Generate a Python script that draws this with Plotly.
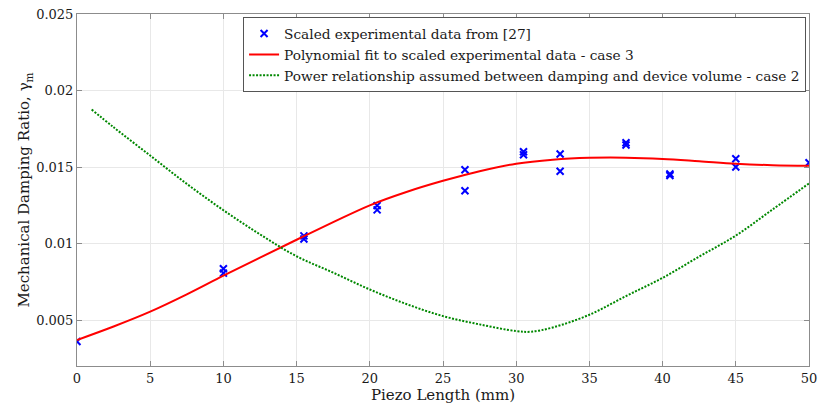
import plotly.graph_objects as go

# Scaled experimental data
exp_x = [0, 10, 10, 15.5, 15.5, 20.5, 20.5, 26.5, 26.5, 30.5, 30.5, 33, 33,
         37.5, 37.5, 40.5, 40.5, 45, 45, 50]
exp_y = [0.0036, 0.00835, 0.00807, 0.0105, 0.0103, 0.01248, 0.0122, 0.01482, 0.01345,
         0.0160, 0.0158, 0.01585, 0.01472, 0.01659, 0.01644, 0.01455, 0.01445,
         0.01554, 0.0150, 0.01528]

# Polynomial fit (case 3)
fit_x = [0, 2.5, 5, 7.5, 10, 12.5, 15, 17.5, 20, 22.5, 25, 27.5, 30, 32.5,
         35, 37.5, 40, 42.5, 45, 47.5, 50]
fit_y = [0.0037, 0.00458, 0.00555, 0.00668, 0.0079, 0.00908, 0.01025, 0.0114,
         0.0125, 0.01337, 0.0141, 0.01473, 0.01522, 0.01548, 0.0156, 0.01561,
         0.01553, 0.01538, 0.01522, 0.01512, 0.01508]

# Power relationship (case 2)
pow_x = [1, 2.5, 5, 7.5, 10, 12.5, 15, 17.5, 20, 22.5, 25, 27.5, 30, 31,
         32.5, 35, 37.5, 40, 42.5, 45, 47.5, 50]
pow_y = [0.01876, 0.0176, 0.01575, 0.0139, 0.01218, 0.0106, 0.00917, 0.0081,
         0.0070, 0.00605, 0.00526, 0.00472, 0.00428, 0.00424, 0.00452, 0.00535,
         0.00657, 0.00776, 0.00915, 0.01052, 0.01222, 0.01393]

x_ticks = [0, 5, 10, 15, 20, 25, 30, 35, 40, 45, 50]
y_ticks = [0.005, 0.01, 0.015, 0.02, 0.025]
y_tick_labels = ["0.005", "0.01", "0.015", "0.02", "0.025"]

FONT = "DejaVu Serif"

fig = go.Figure()
fig.add_trace(go.Scatter(
    x=exp_x, y=exp_y, mode="markers",
    name="Scaled experimental data from [27]",
    marker=dict(symbol="x-thin", size=7, color="#0000ff",
                line=dict(width=2, color="#0000ff")),
))
fig.add_trace(go.Scatter(
    x=fit_x, y=fit_y, mode="lines",
    name="Polynomial fit to scaled experimental data - case 3",
    line=dict(color="#ff0000", width=2, shape="spline", smoothing=1),
))
fig.add_trace(go.Scatter(
    x=pow_x, y=pow_y, mode="lines",
    name="Power relationship assumed between damping and device volume - case 2",
    line=dict(color="#008800", width=2, dash="2px,1.5px", shape="spline", smoothing=1),
))

axis_common = dict(
    showgrid=True, gridcolor="#e8e8e8", gridwidth=1,
    showline=True, linecolor="#8c8c8c", linewidth=1, mirror="ticks",
    ticks="inside", ticklen=5, tickcolor="#8c8c8c",
    zeroline=False,
    tickfont=dict(family=FONT, size=13, color="#1a1a1a"),
)

fig.update_layout(
    width=818, height=404,
    margin=dict(l=77, r=9, t=14, b=38, autoexpand=False),
    paper_bgcolor="white", plot_bgcolor="white",
    font=dict(family=FONT, size=13, color="#1a1a1a"),
    showlegend=True,
    legend=dict(
        x=0.996, y=0.991, xanchor="right", yanchor="top",
        bgcolor="white", bordercolor="#555555", borderwidth=1,
        font=dict(family=FONT, size=13.7, color="#1a1a1a"),
        tracegroupgap=0,
    ),
    xaxis=dict(
        range=[0, 50], tickvals=x_ticks,
        title=dict(text="Piezo Length (mm)", font=dict(family=FONT, size=15), standoff=2),
        automargin=False,
        **axis_common,
    ),
    yaxis=dict(
        range=[0.002, 0.025], tickvals=y_ticks, ticktext=y_tick_labels,
        title=dict(text="Mechanical Damping Ratio, γ<sub>m</sub>",
                   font=dict(family=FONT, size=15), standoff=2),
        automargin=False,
        **axis_common,
    ),
)

fig.write_html(
    "out.html",
    config={"displayModeBar": False},
    post_script="document.body.style.margin='0';document.body.style.overflow='hidden';",
)
